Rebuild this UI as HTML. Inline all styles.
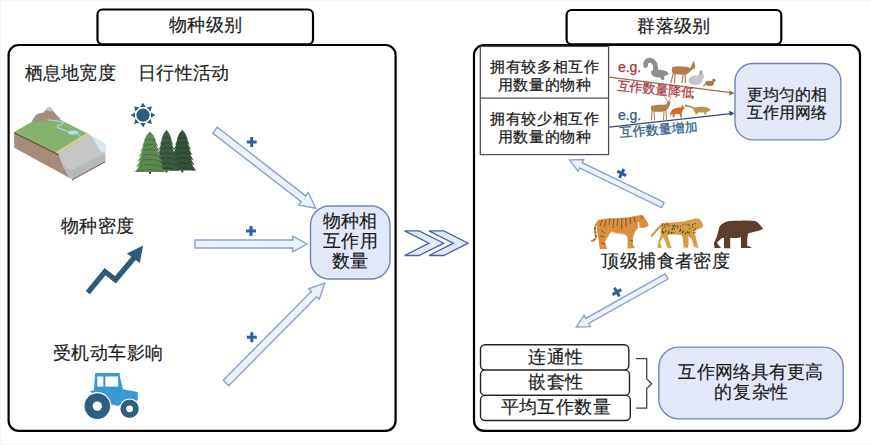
<!DOCTYPE html><html><head><meta charset="utf-8"><style>
html,body{margin:0;padding:0;background:#fff;width:871px;height:445px;overflow:hidden}
svg{position:absolute;left:0;top:0}
text{font-family:"Liberation Sans", sans-serif}
</style></head><body>
<svg width="871" height="445" viewBox="0 0 871 445">
<rect x="0.5" y="0.5" width="880" height="444" fill="none" stroke="#f6f6f6" stroke-width="1"/>
<rect x="8.6" y="45" width="387" height="385.8" rx="10" fill="#fff" stroke="#000" stroke-width="2.2"/>
<rect x="97.5" y="9.5" width="215.5" height="34.8" rx="5" fill="#fff" stroke="#000" stroke-width="2.2"/>
<text x="205.75" y="31.0" font-size="18" fill="#1a1a1a" stroke="#1a1a1a" stroke-width="0.18" letter-spacing="0.3" text-anchor="middle" >物种级别</text>
<text x="70.25" y="79.0" font-size="18" fill="#1a1a1a" stroke="#1a1a1a" stroke-width="0.18" letter-spacing="0.3" text-anchor="middle" >栖息地宽度</text>
<text x="183.75" y="79.0" font-size="18" fill="#1a1a1a" stroke="#1a1a1a" stroke-width="0.18" letter-spacing="0.3" text-anchor="middle" >日行性活动</text>
<text x="97.65" y="232.2" font-size="18" fill="#1a1a1a" stroke="#1a1a1a" stroke-width="0.18" letter-spacing="0.3" text-anchor="middle" >物种密度</text>
<text x="108.05" y="358.6" font-size="18" fill="#1a1a1a" stroke="#1a1a1a" stroke-width="0.18" letter-spacing="0.5" text-anchor="middle" >受机动车影响</text>
<polygon points="14.2,132 14.2,147.7 72,179.2 68,175 63,166 58.5,154" fill="#a58c7a"/>
<polygon points="58.5,154 63,166 68,175 72,179.2 105.4,161 105.4,143.9 89.2,134.4" fill="#b3b8b8"/>
<path d="M58.5,154 L89.2,134.4 C94,139 96.5,144 98,148 C99.5,151 102,152.5 105.4,153 L72,170 C68,169 64,166 62,162 Z" fill="#c4c7c5"/>
<path d="M89.2,134.4 L105.4,143.9 L105.4,153 C102,152.5 99.5,151 98,148 C96.5,144 94,139 89.2,134.4 Z" fill="#d4e9f0"/>
<polygon points="14.2,132 47,113 89.2,134.4 58.5,154" fill="#86b26c"/>
<polygon points="55,152.5 86,133.4 89.2,134.4 58.5,154" fill="#d8c89a"/>
<polygon points="14.2,132 58.5,154 58.5,155.6 14.2,133.6" fill="#6b5444"/><polygon points="72,179.2 105.4,161 105.4,162.2 72,180.4" fill="#7a6252"/>
<defs><linearGradient id="mg" x1="0" y1="0" x2="0" y2="1"><stop offset="0" stop-color="#a88f80"/><stop offset="0.7" stop-color="#a39080"/><stop offset="1" stop-color="#8fae72"/></linearGradient></defs>
<path d="M31.5,122.5 C33,118 35.5,114.5 38.5,113.5 C40,113 42,113 43.5,112.5 C45.5,110 47.3,107.5 48.8,106.7 C51,108 53,110.5 55,113 C57,115.5 59,117.5 61,119 C56,121.5 50,123 44,123.5 C39,123.8 35,123.5 31.5,122.5 Z" fill="url(#mg)"/>
<path d="M33,121 C35,117 37,114.5 39.5,113.8 C41.5,114.5 43,117 44,121 Z" fill="#9c8f7a" opacity="0.6"/>
<path d="M45.7,109.9 L48.8,106.7 L52,111 C50,111.5 47.5,111 45.7,109.9 Z" fill="#c9c9c9"/>
<path d="M47.5,119.8 C52,120.5 58,120.5 63.6,122.5 C64,124.5 57,125 57.3,127 C58,129 64,129.5 67.5,131.2 M77,133.5 L82.5,138.6" stroke="#acd6ea" stroke-width="1.1" fill="none"/>
<ellipse cx="73" cy="132.6" rx="5.2" ry="2.1" fill="#b4dcef"/>
<g fill="#2e5d83">
<circle cx="143" cy="115.1" r="6.6"/>
<polygon points="143.0,102.7 145.7,107.1 140.3,107.1"/>
<polygon points="151.8,106.3 150.6,111.4 146.7,107.5"/>
<polygon points="155.4,115.1 151.0,117.8 151.0,112.4"/>
<polygon points="151.8,123.9 146.7,122.7 150.6,118.8"/>
<polygon points="143.0,127.5 140.3,123.1 145.7,123.1"/>
<polygon points="134.2,123.9 135.4,118.8 139.3,122.7"/>
<polygon points="130.6,115.1 135.0,112.4 135.0,117.8"/>
<polygon points="134.2,106.3 139.3,107.5 135.4,111.4"/>
</g>
<rect x="181.3" y="169.5" width="2" height="3" fill="#5a3a28"/>
<polygon points="182.3,129.7 186.4,134.8 185.1,133.0 188.2,139.9 186.4,138.1 189.8,145.0 187.5,143.2 191.2,150.1 188.5,148.3 192.5,155.2 189.4,153.4 193.7,160.3 190.3,158.5 194.9,165.4 191.1,163.6 196.1,170.5 168.6,170.5 173.5,163.6 169.7,165.4 174.3,158.5 170.9,160.3 175.2,153.4 172.1,155.2 176.1,148.3 173.4,150.1 177.1,143.2 174.8,145.0 178.2,138.1 176.4,139.9 179.5,133.0 178.2,134.8" fill="#35533a"/>
<path d="M177.3,139.6 Q182.3,135.3 187.3,139.6" fill="none" stroke="#1f3524" stroke-width="0.9" opacity="0.7"/>
<path d="M176.0,144.7 Q182.3,140.4 188.6,144.7" fill="none" stroke="#1f3524" stroke-width="0.9" opacity="0.7"/>
<path d="M174.7,149.8 Q182.3,145.5 189.9,149.8" fill="none" stroke="#1f3524" stroke-width="0.9" opacity="0.7"/>
<path d="M173.6,154.9 Q182.3,150.6 191.0,154.9" fill="none" stroke="#1f3524" stroke-width="0.9" opacity="0.7"/>
<path d="M172.6,160.0 Q182.3,155.7 192.0,160.0" fill="none" stroke="#1f3524" stroke-width="0.9" opacity="0.7"/>
<path d="M171.6,165.1 Q182.3,160.8 193.0,165.1" fill="none" stroke="#1f3524" stroke-width="0.9" opacity="0.7"/>
<path d="M170.6,170.2 Q182.3,165.9 194.0,170.2" fill="none" stroke="#1f3524" stroke-width="0.9" opacity="0.7"/>
<rect x="165.5" y="169.5" width="2" height="3" fill="#5a3a28"/>
<polygon points="166.5,129.7 170.2,134.8 169.1,133.0 171.9,139.9 170.3,138.1 173.3,145.0 171.3,143.2 174.6,150.1 172.2,148.3 175.8,155.2 173.0,153.4 176.9,160.3 173.8,158.5 178.0,165.4 174.5,163.6 179.0,170.5 154.0,170.5 158.5,163.6 155.0,165.4 159.2,158.5 156.1,160.3 160.0,153.4 157.2,155.2 160.8,148.3 158.4,150.1 161.7,143.2 159.7,145.0 162.7,138.1 161.1,139.9 163.9,133.0 162.8,134.8" fill="#3d5d42"/>
<path d="M161.9,139.6 Q166.5,135.3 171.1,139.6" fill="none" stroke="#223a27" stroke-width="0.9" opacity="0.7"/>
<path d="M160.7,144.7 Q166.5,140.4 172.3,144.7" fill="none" stroke="#223a27" stroke-width="0.9" opacity="0.7"/>
<path d="M159.6,149.8 Q166.5,145.5 173.4,149.8" fill="none" stroke="#223a27" stroke-width="0.9" opacity="0.7"/>
<path d="M158.6,154.9 Q166.5,150.6 174.4,154.9" fill="none" stroke="#223a27" stroke-width="0.9" opacity="0.7"/>
<path d="M157.7,160.0 Q166.5,155.7 175.3,160.0" fill="none" stroke="#223a27" stroke-width="0.9" opacity="0.7"/>
<path d="M156.7,165.1 Q166.5,160.8 176.3,165.1" fill="none" stroke="#223a27" stroke-width="0.9" opacity="0.7"/>
<path d="M155.9,170.2 Q166.5,165.9 177.1,170.2" fill="none" stroke="#223a27" stroke-width="0.9" opacity="0.7"/>
<rect x="149" y="171" width="2" height="3" fill="#5a3a28"/>
<polygon points="150.0,131.4 154.5,136.5 153.1,134.7 156.5,141.6 154.6,139.8 158.3,146.6 155.8,144.8 159.9,151.7 156.9,149.9 161.3,156.8 157.9,155.0 162.7,161.8 158.9,160.1 164.0,166.9 159.8,165.1 165.2,172.0 134.8,172.0 140.2,165.1 136.0,166.9 141.1,160.1 137.3,161.8 142.1,155.0 138.7,156.8 143.1,149.9 140.1,151.7 144.2,144.8 141.7,146.6 145.4,139.8 143.5,141.6 146.9,134.7 145.5,136.5" fill="#5b8b50"/>
<path d="M144.4,141.2 Q150.0,137.0 155.6,141.2" fill="none" stroke="#3b6436" stroke-width="0.9" opacity="0.7"/>
<path d="M143.0,146.3 Q150.0,142.1 157.0,146.3" fill="none" stroke="#3b6436" stroke-width="0.9" opacity="0.7"/>
<path d="M141.6,151.4 Q150.0,147.1 158.4,151.4" fill="none" stroke="#3b6436" stroke-width="0.9" opacity="0.7"/>
<path d="M140.4,156.5 Q150.0,152.2 159.6,156.5" fill="none" stroke="#3b6436" stroke-width="0.9" opacity="0.7"/>
<path d="M139.2,161.5 Q150.0,157.3 160.8,161.5" fill="none" stroke="#3b6436" stroke-width="0.9" opacity="0.7"/>
<path d="M138.1,166.6 Q150.0,162.4 161.9,166.6" fill="none" stroke="#3b6436" stroke-width="0.9" opacity="0.7"/>
<path d="M137.0,171.7 Q150.0,167.4 163.0,171.7" fill="none" stroke="#3b6436" stroke-width="0.9" opacity="0.7"/>
<polyline points="87.8,292.6 105,271.7 115.5,279.8 135.5,256" fill="none" stroke="#2f5a78" stroke-width="5.4" stroke-linejoin="miter"/>
<polygon points="126.9,253.5 143.1,245.4 139.8,262.9" fill="#2f5a78"/>
<path d="M89.8,391.4 L93.9,390 L95.2,373.1 L120.2,373.1 L119.6,375 L122.9,389.3 L137.7,392 L137.7,400.8 L130,400 L118,406 L110,404 Z" fill="#3a98d6"/>
<rect x="97.3" y="376.5" width="6" height="10.1" fill="#fff"/>
<rect x="105.4" y="376.5" width="12.8" height="10.1" fill="#fff"/>
<circle cx="97.3" cy="406.1" r="13.4" fill="#2f5f80" stroke="#fff" stroke-width="1.2"/>
<circle cx="97.3" cy="406.1" r="4.7" fill="#fff"/>
<circle cx="129.6" cy="408.8" r="9.8" fill="#2f5f80" stroke="#fff" stroke-width="1.2"/>
<circle cx="129.6" cy="408.8" r="3.4" fill="#fff"/>
<polygon points="212.76,133.08 301.22,201.68 298.55,205.12 315.70,208.30 308.35,192.48 305.69,195.92 217.24,127.32" fill="#eef3fb" stroke="#88a1d2" stroke-width="1.4" stroke-linejoin="miter"/>
<polygon points="195.00,248.00 292.80,248.00 292.80,251.80 307.00,244.00 292.80,236.20 292.80,240.00 195.00,240.00" fill="#eef3fb" stroke="#88a1d2" stroke-width="1.4" stroke-linejoin="miter"/>
<polygon points="228.67,385.64 316.64,296.69 319.30,299.32 324.80,283.10 308.64,288.78 311.30,291.41 223.33,380.36" fill="#eef3fb" stroke="#88a1d2" stroke-width="1.4" stroke-linejoin="miter"/>
<g transform="translate(251.7,142) rotate(0)"><rect x="-5.0" y="-1.5" width="10" height="3" fill="#2f5ea8"/><rect x="-1.5" y="-5.0" width="3" height="10" fill="#2f5ea8"/></g>
<g transform="translate(251,231) rotate(0)"><rect x="-5.0" y="-1.5" width="10" height="3" fill="#2f5ea8"/><rect x="-1.5" y="-5.0" width="3" height="10" fill="#2f5ea8"/></g>
<g transform="translate(251.8,337.2) rotate(0)"><rect x="-5.0" y="-1.5" width="10" height="3" fill="#2f5ea8"/><rect x="-1.5" y="-5.0" width="3" height="10" fill="#2f5ea8"/></g>
<rect x="310.5" y="206" width="79.5" height="73" rx="19" fill="#e3e8f8" stroke="#6f82ba" stroke-width="1.4"/>
<text x="350.34999999999997" y="227.1" font-size="18" fill="#1a1a1a" stroke="#1a1a1a" stroke-width="0.18" letter-spacing="0.3" text-anchor="middle" >物种相</text>
<text x="350.65" y="246.8" font-size="18" fill="#1a1a1a" stroke="#1a1a1a" stroke-width="0.18" letter-spacing="0.3" text-anchor="middle" >互作用</text>
<text x="350.34999999999997" y="267.4" font-size="18" fill="#1a1a1a" stroke="#1a1a1a" stroke-width="0.18" letter-spacing="0.3" text-anchor="middle" >数量</text>
<polygon points="404.6,230.8 419.1,230.8 443.8,243.2 419.1,255.5 404.6,255.5 429,243.2" fill="#e4e9f8" stroke="#4a5fb0" stroke-width="1.3"/>
<polygon points="429,230.8 443.8,230.8 468.1,243.2 443.8,255.5 429,255.5 453.3,243.2" fill="#e4e9f8" stroke="#4a5fb0" stroke-width="1.3"/>
<rect x="474" y="45" width="386" height="385.8" rx="10" fill="#fff" stroke="#000" stroke-width="2.2"/>
<rect x="566.6" y="10" width="214.7" height="34.3" rx="5" fill="#fff" stroke="#000" stroke-width="2.2"/>
<text x="674.05" y="31.9" font-size="18" fill="#1a1a1a" stroke="#1a1a1a" stroke-width="0.18" letter-spacing="0.3" text-anchor="middle" >群落级别</text>
<rect x="480.3" y="46.4" width="128.3" height="108.2" fill="#fff" stroke="#505050" stroke-width="1.3"/>
<line x1="480.3" y1="98.2" x2="608.6" y2="98.2" stroke="#505050" stroke-width="1.3"/>
<text x="544.725" y="72.3" font-size="15" fill="#1a1a1a" stroke="#1a1a1a" stroke-width="0.25" letter-spacing="0.65" text-anchor="middle" >拥有较多相互作</text>
<text x="544.725" y="90.1" font-size="15" fill="#1a1a1a" stroke="#1a1a1a" stroke-width="0.25" letter-spacing="0.65" text-anchor="middle" >用数量的物种</text>
<text x="544.725" y="124.0" font-size="15" fill="#1a1a1a" stroke="#1a1a1a" stroke-width="0.25" letter-spacing="0.65" text-anchor="middle" >拥有较少相互作</text>
<text x="544.725" y="141.6" font-size="15" fill="#1a1a1a" stroke="#1a1a1a" stroke-width="0.25" letter-spacing="0.65" text-anchor="middle" >用数量的物种</text>
<text x="618" y="71.5" font-size="14" fill="#a8323a" stroke="#a8323a" stroke-width="0.25" letter-spacing="-0.1" text-anchor="start" >e.g.</text>
<text x="618" y="119.5" font-size="14" fill="#2a5a8e" stroke="#2a5a8e" stroke-width="0.25" letter-spacing="-0.1" text-anchor="start" >e.g.</text>
<line x1="609.3" y1="77.1" x2="731" y2="92.7" stroke="#a86a3c" stroke-width="1.3"/>
<polygon points="734.6,93.3 729.6,90.3 729,95.4" fill="#a86a3c"/>
<line x1="609.3" y1="127.2" x2="731" y2="113.7" stroke="#33487e" stroke-width="1.3"/>
<polygon points="734.6,113.2 729.2,110.7 729.8,115.9" fill="#33487e"/>
<text x="616.5" y="89.5" font-size="13" fill="#a83a3a" stroke="#a83a3a" stroke-width="0.25" transform="rotate(6 616.5 89.5)">互作数量降低</text>
<text x="620" y="137" font-size="13" fill="#2d5b8c" stroke="#2d5b8c" stroke-width="0.25" transform="rotate(-4.8 620 137)">互作数量增加</text>
<rect x="735" y="63.5" width="105.9" height="76.4" rx="18" fill="#e3e8f8" stroke="#6f82ba" stroke-width="1.4"/>
<text x="787.2" y="100.1" font-size="16" fill="#1a1a1a" stroke="#1a1a1a" stroke-width="0.25" letter-spacing="0" text-anchor="middle" >更均匀的相</text>
<text x="787.2" y="117.8" font-size="16" fill="#1a1a1a" stroke="#1a1a1a" stroke-width="0.25" letter-spacing="0" text-anchor="middle" >互作用网络</text>
<polygon points="664.16,202.39 582.12,162.73 583.68,159.49 569.60,159.90 578.03,171.19 579.59,167.95 661.64,207.61" fill="#eef3fb" stroke="#88a1d2" stroke-width="1.4" stroke-linejoin="miter"/>
<polygon points="665.08,273.97 585.78,318.46 584.02,315.32 576.30,327.10 590.38,326.65 588.62,323.51 667.92,279.03" fill="#eef3fb" stroke="#88a1d2" stroke-width="1.4" stroke-linejoin="miter"/>
<g transform="translate(621.7,173.4) rotate(27)"><rect x="-5.0" y="-1.5" width="10" height="3" fill="#2f5ea8"/><rect x="-1.5" y="-5.0" width="3" height="10" fill="#2f5ea8"/></g>
<g transform="translate(616.9,292.1) rotate(-30)"><rect x="-5.0" y="-1.5" width="10" height="3" fill="#2f5ea8"/><rect x="-1.5" y="-5.0" width="3" height="10" fill="#2f5ea8"/></g>
<text x="665.8000000000001" y="267.0" font-size="18" fill="#1a1a1a" stroke="#1a1a1a" stroke-width="0.18" letter-spacing="0.4" text-anchor="middle" >顶级捕食者密度</text>
<rect x="480.5" y="344.8" width="148.3" height="25.3" rx="4.5" fill="#fff" stroke="#222" stroke-width="1.4"/>
<text x="555.9000000000001" y="362.7" font-size="18" fill="#1a1a1a" stroke="#1a1a1a" stroke-width="0.18" letter-spacing="0.4" text-anchor="middle" >连通性</text>
<rect x="480.5" y="370.1" width="149" height="25.3" rx="4.5" fill="#fff" stroke="#222" stroke-width="1.4"/>
<text x="555.9000000000001" y="387.8" font-size="18" fill="#1a1a1a" stroke="#1a1a1a" stroke-width="0.18" letter-spacing="0.4" text-anchor="middle" >嵌套性</text>
<rect x="480.5" y="395.4" width="149.8" height="25.1" rx="4.5" fill="#fff" stroke="#222" stroke-width="1.4"/>
<text x="555.9000000000001" y="412.9" font-size="18" fill="#1a1a1a" stroke="#1a1a1a" stroke-width="0.18" letter-spacing="0.4" text-anchor="middle" >平均互作数量</text>
<polyline points="636,358.7 646.7,358.7 646.7,378.8 651.6,383.7 646.7,388.6 646.7,408.2 636,408.2" fill="none" stroke="#444" stroke-width="1.3"/>
<rect x="658.8" y="347.1" width="184.4" height="71.8" rx="20" fill="#e3e8f8" stroke="#6f82ba" stroke-width="1.4"/>
<text x="750.975" y="377.8" font-size="18" fill="#1a1a1a" stroke="#1a1a1a" stroke-width="0.18" letter-spacing="0.15" text-anchor="middle" >互作网络具有更高</text>
<text x="751.5999999999999" y="398.2" font-size="18" fill="#1a1a1a" stroke="#1a1a1a" stroke-width="0.18" letter-spacing="0.6" text-anchor="middle" >的复杂性</text>
<path d="M597,222.8 C595,226 594.5,230 595.5,234 C596.2,237 596,239 594.5,240 C593.5,240.8 592.5,241 591.6,240.8" fill="none" stroke="#d98a3e" stroke-width="1.9" stroke-linecap="round"/>
<g stroke="#3a2412" stroke-width="0.9"><path d="M594.4,228 L596,228.3"/><path d="M594.8,232 L596.4,232.2"/><path d="M595.2,236 L596.8,236"/><path d="M593.2,240 L594.5,239"/></g>
<path d="M597.9,220.1 C603,219 607,218.5 610.5,218.3 C618,218 625,217.5 631.1,216.9 C634,216.3 636.5,215.8 638.3,215.6 L642.8,215.1 C644,216.5 645,218 645.5,219.2 C647,221 648.3,223.5 648.7,225.5 C647.5,227 645.5,227.7 643.7,227.7 L638.3,227.7 C636.5,229.5 635.5,231 634.7,232.7 C633.5,235 633,237 632.9,239 L632.9,245.3 C633.8,246 634.7,247 634.7,248 L627.6,248.4 L627.6,237.2 C626.5,235.5 625.5,234.8 624,234.5 C619,234 614,233.5 610.5,232.7 C609.5,233.5 609,234.5 608.7,235.4 C607,237.5 605.8,239.5 605.1,241.7 C605.5,244 606.5,246.5 607.3,248.9 L599.7,248.9 C599.3,246 599,243.5 598.8,240.8 C598,237 597.3,233.5 597,230 C596.8,226.5 597,223 597.9,220.1 Z" fill="#db8d40"/>
<path d="M611,231.5 C615,233 620,233.6 625,233.8 L624,234.5 C619,234 614,233.5 610.5,232.7 Z" fill="#f2e8dc"/><path d="M638.5,221 C639.5,223.5 640,226 639.5,227.7 L638.3,227.7 C637.5,226 637.5,223 638.5,221 Z" fill="#f2e8dc"/>
<g stroke="#4a2c16" stroke-width="0.75" fill="none" opacity="0.75">
<path d="M602,220 L600,226"/>
<path d="M606,219.5 L604.5,227"/>
<path d="M610,219 L609,225"/>
<path d="M614,219 L613,228"/>
<path d="M618,218.5 L617,226"/>
<path d="M622,218.5 L621.5,229"/>
<path d="M626,218 L626,227"/>
<path d="M630,217.5 L630.5,224"/>
<path d="M634,217 L635,222"/>
<path d="M641,215.5 L642,219"/>
<path d="M601,230 L604,233"/>
<path d="M600,236 L604,237"/>
<path d="M630,240 L633,241"/>
<path d="M601,243 L605,244"/>
</g>
<path d="M661,225.5 C658,228.5 655,232 651.8,235.8" fill="none" stroke="#cf9a45" stroke-width="2.2" stroke-linecap="round"/>
<path d="M660.8,225.1 C661.5,224 662.5,223.3 663.4,223 C667,222.7 670,222.5 673.6,222.5 C677,222.2 681,221.8 684.7,221.3 C688,220.5 691,219.6 693.2,219.1 L695.8,218.3 L699.2,219.1 C701,220.8 702.5,223 703.5,225.1 C703,226.5 702.5,227.5 701.8,228.1 L698.4,228.9 C697,229.8 695.5,230.5 694.1,231.1 C694.5,232 695.5,236 696.5,240 L697.9,246.4 L699.2,247.7 L694.1,247.3 L691.5,238.8 L688,236 C688.5,240 689,244 688.1,247.7 L683,247.5 L683.8,246.4 L682.1,235.3 C680,234.8 675,234.5 670.2,234.5 L667.6,235.3 L671,246.4 L672.8,247.7 L667.6,248.1 L665.1,241.3 L663,237 L660,242.2 L661.7,248.1 L657.4,247.7 C657.5,245 658,243.5 658.2,242.2 L660.8,235.3 C660.5,233 660.5,231.5 660.8,231.1 C660.5,229 660.5,227 660.8,225.1 Z" fill="#d3a049"/>
<g fill="#3a2610" opacity="0.85">
<circle cx="683.2" cy="230.9" r="0.65"/>
<circle cx="689.0" cy="232.9" r="0.65"/>
<circle cx="687.2" cy="232.7" r="0.65"/>
<circle cx="663.0" cy="228.2" r="0.65"/>
<circle cx="694.1" cy="230.0" r="0.65"/>
<circle cx="692.6" cy="224.6" r="0.65"/>
<circle cx="677.9" cy="226.0" r="0.65"/>
<circle cx="680.5" cy="229.2" r="0.65"/>
<circle cx="662.4" cy="225.7" r="0.65"/>
<circle cx="671.5" cy="232.7" r="0.65"/>
<circle cx="688.0" cy="225.1" r="0.65"/>
<circle cx="689.1" cy="224.9" r="0.65"/>
<circle cx="683.0" cy="224.8" r="0.65"/>
<circle cx="662.1" cy="232.2" r="0.65"/>
<circle cx="669.1" cy="225.7" r="0.65"/>
<circle cx="695.4" cy="232.2" r="0.65"/>
<circle cx="671.8" cy="233.1" r="0.65"/>
<circle cx="680.3" cy="230.3" r="0.65"/>
<circle cx="669.0" cy="232.9" r="0.65"/>
<circle cx="685.5" cy="233.2" r="0.65"/>
<circle cx="692.4" cy="226.5" r="0.65"/>
<circle cx="674.3" cy="225.2" r="0.65"/>
<circle cx="667.0" cy="224.2" r="0.65"/>
<circle cx="672.2" cy="229.5" r="0.65"/>
<circle cx="662.1" cy="230.3" r="0.65"/>
<circle cx="673.5" cy="226.6" r="0.65"/>
<circle cx="689.8" cy="228.3" r="0.65"/>
<circle cx="672.7" cy="228.3" r="0.65"/>
<circle cx="686.0" cy="224.1" r="0.65"/>
<circle cx="695.2" cy="223.7" r="0.65"/>
<circle cx="687.5" cy="231.9" r="0.65"/>
<circle cx="662.6" cy="231.4" r="0.65"/>
<circle cx="674.5" cy="229.3" r="0.65"/>
<circle cx="662.3" cy="224.0" r="0.65"/>
<circle cx="668.2" cy="233.1" r="0.65"/>
<circle cx="668.7" cy="231.1" r="0.65"/>
<circle cx="693.6" cy="232.9" r="0.65"/>
<circle cx="673.7" cy="227.0" r="0.65"/>
<circle cx="679.8" cy="231.3" r="0.65"/>
<circle cx="665.7" cy="231.0" r="0.65"/>
<circle cx="689.1" cy="232.1" r="0.65"/>
<circle cx="663.2" cy="233.0" r="0.65"/>
<circle cx="665.1" cy="226.9" r="0.65"/>
<circle cx="682.8" cy="232.7" r="0.65"/>
<circle cx="673.6" cy="232.7" r="0.65"/>
<circle cx="680.5" cy="226.6" r="0.65"/>
<circle cx="672.8" cy="225.3" r="0.65"/>
<circle cx="664.7" cy="225.0" r="0.65"/>
<circle cx="685.4" cy="233.5" r="0.65"/>
<circle cx="667.5" cy="224.0" r="0.65"/>
<circle cx="695.5" cy="228.8" r="0.65"/>
<circle cx="675.8" cy="225.9" r="0.65"/>
<circle cx="682.2" cy="231.8" r="0.65"/>
<circle cx="677.5" cy="227.7" r="0.65"/>
<circle cx="663.9" cy="232.7" r="0.65"/>
</g>
<path d="M721.2,224.6 C724,222.5 727,221.3 729.3,221 C735,220.5 739,220.8 743.6,220.5 C748,220.2 752,220.5 755.3,221 C757,221.8 758.3,222.8 758.9,223.7 C760.5,225.5 762,227 763,228.6 C761.5,230 759.5,230.8 758,230.9 C754,231.5 750.5,232.5 748.1,233.6 L747.2,239 L747.2,246.1 C749,246.5 751,247 751.7,248 L741,248 L741,237.2 C737,238 733,238.2 730.2,238 L730.2,247.5 C731,247.8 731.5,248 731.5,248.2 L724,248.2 L723.9,238 C723,238 722.5,238 722.1,238 C720,240 718,241 717.1,242.5 C717.5,244 719,246 721.2,248 L714.4,248 L714.4,246.6 C714,245 714,244 714,243 C716,239 717.5,235 718.5,230 C719,227.5 720,225.8 721.2,224.6 Z" fill="#5b3e2c"/>
<path d="M654.8,72 C656.3,67 656,62.5 651.3,60.6 C648,59.5 645.3,61.5 645.6,65.5" fill="none" stroke="#8e8e8c" stroke-width="4.8" stroke-linecap="round"/>
<path d="M651.5,71 C656,69 663,69.5 667,71.5 L668.9,74.1 C667,75.5 665,76 664,76.5 L664.5,79.8 L662,80 L660,77.5 C656,77.5 653,76.5 652,75 C651,73.5 651,72 651.5,71 Z" fill="#8e8e8c"/>
<path d="M672.5,67 C678,65.5 686,66.5 690.5,68 L692.5,63 L693.5,60.8 L694.5,63 C695,65 695.5,67 695,68.5 L692.5,69 C691,71 689,73 686,74.5 C681,75 676,74.5 673,73.5 C671.5,72 671.5,69 672.5,67 Z" fill="#b37b48"/>
<g stroke="#b37b48" stroke-width="1.2"><path d="M673.5,73 L670.7,83"/><path d="M675,74 L674.5,83.2"/><path d="M683,74.5 L682,83"/><path d="M685,74 L685.5,83"/></g>
<ellipse cx="695.5" cy="80.3" rx="7" ry="4.8" fill="#c5c5c9"/><circle cx="701" cy="76.5" r="3" fill="#c5c5c9"/><path d="M699.5,75 L699.8,70.5 L702.5,70.8 L702,75 Z" fill="#9c9ca2"/>
<ellipse cx="709.5" cy="83.3" rx="4.5" ry="2.6" fill="#a27a52"/><circle cx="713.8" cy="80.6" r="1.8" fill="#a27a52"/><path d="M705,84.5 L703.4,86.3" stroke="#a27a52" stroke-width="1.3"/>
<path d="M651,106 C655,104.5 661,104.8 666,104.5 L667.5,101.5 L669.5,100.8 L670.5,102.5 L670,104.5 C669,107 667.5,109.5 666,111 C661,112 656,112 652,111.5 C650.5,109.5 650.5,107.5 651,106 Z" fill="#b38052"/>
<g stroke="#b38052" stroke-width="1.1"><path d="M652,111 L651.5,120.3"/><path d="M654,111.5 L654.5,120.3"/><path d="M664,111.5 L663.5,120"/><path d="M666,111 L666.5,120"/><path d="M667.5,101.5 L664.4,96.4" stroke-width="0.8"/><path d="M669,101 L671.2,96.4" stroke-width="0.8"/></g>
<path d="M672,110 C674,108 678,107.5 681,107.5 L682.5,104.7 L683.5,106.5 L684.9,108.5 L683,109.5 C682.5,111 682,112.5 681.5,113.5 L682,117.4 L680.5,117.4 L679.5,114 L675,114 L674,117.4 L672.8,117.4 L672.5,113.5 C671.5,114.5 670.5,115.5 669.8,116.4 C670,114 670.8,112 672,110 Z" fill="#d16a2a"/>
<path d="M684.9,105.5 C688,105.5 691,107 694.5,108.5" fill="none" stroke="#ba9158" stroke-width="1.8"/>
<path d="M694,108 C698,106.5 704,106.5 707.5,107.5 L710.7,109.5 L708.5,111.5 L706.5,112 L706,114.4 L704.5,114.4 L704,112.5 L698,112.5 L697,114.4 L695.5,114.4 L695,112 C693.5,111 693,109.5 694,108 Z" fill="#ba9158"/>
</svg></body></html>
